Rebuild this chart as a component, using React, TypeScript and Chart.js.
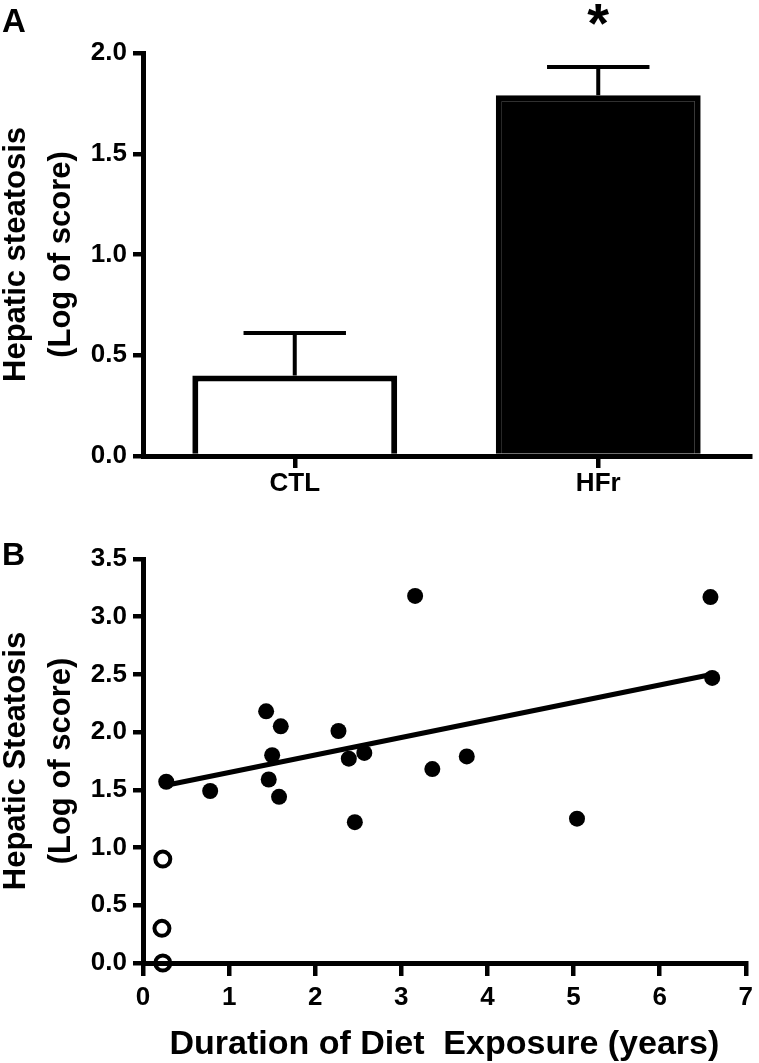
import React, { useEffect, useRef } from 'react';
import { Chart, registerables } from 'chart.js';

Chart.register(...registerables);

const FONT = '"Liberation Sans", Arial, Helvetica, sans-serif';

// ---- Panel A: bar chart ----
const barCategories = ['CTL', 'HFr'];
const barMeans = [0.4, 1.79];
const barErrors = [0.21, 0.14];
const barFills = ['#ffffff', '#000000'];
const barSignificance = ['', '*'];
const barYMin = 0;
const barYMax = 2.0;
const barYStep = 0.5;
const barYTitle = ['Hepatic steatosis', '(Log of score)'];

// ---- Panel B: scatter ----
const filledX = [0.27, 0.78, 1.43, 1.6, 1.5, 1.46, 1.58, 2.27, 2.39, 2.57, 2.46, 3.16, 3.36, 3.76, 5.04, 6.59, 6.61];
const filledY = [1.57, 1.49, 2.18, 2.05, 1.8, 1.59, 1.44, 2.01, 1.77, 1.82, 1.22, 3.18, 1.68, 1.79, 1.25, 3.17, 2.47];
const openX = [0.23, 0.22, 0.23];
const openY = [0.9, 0.3, 0.0];
const fitX = [0.27, 6.6];
const fitY = [1.54, 2.5];
const scatXMin = 0;
const scatXMax = 7;
const scatXStep = 1;
const scatYMin = 0;
const scatYMax = 3.5;
const scatYStep = 0.5;
const scatYTitle = ['Hepatic Steatosis', '(Log of score)'];
const scatXTitle = 'Duration of Diet  Exposure (years)';

const tickFont = { family: FONT, size: 26, weight: 'bold' as const };

const panelLabelPlugin = {
  id: 'panelLabel',
  afterDraw(chart: any, _args: any, opts: any) {
    const ctx = chart.ctx;
    ctx.save();
    ctx.fillStyle = '#000';
    ctx.font = `bold ${opts.size}px ${FONT}`;
    ctx.textAlign = 'left';
    ctx.textBaseline = 'alphabetic';
    ctx.fillText(opts.text, opts.x, opts.y);
    ctx.restore();
  },
};

const errorBarPlugin = {
  id: 'errorBars',
  afterDatasetsDraw(chart: any, _args: any, opts: any) {
    const meta = chart.getDatasetMeta(0);
    const yScale = chart.scales.y;
    const ctx = chart.ctx;
    ctx.save();
    ctx.strokeStyle = '#000';
    ctx.fillStyle = '#000';
    ctx.lineWidth = opts.lineWidth;
    ctx.lineCap = 'butt';
    meta.data.forEach((bar: any, i: number) => {
      const top = yScale.getPixelForValue(barMeans[i] + barErrors[i]);
      const half = (bar.width * opts.capFraction) / 2;
      ctx.beginPath();
      ctx.moveTo(bar.x, bar.y);
      ctx.lineTo(bar.x, top);
      ctx.moveTo(bar.x - half, top);
      ctx.lineTo(bar.x + half, top);
      ctx.stroke();
      const mark = barSignificance[i];
      if (mark) {
        ctx.font = `bold ${opts.markSize}px ${FONT}`;
        ctx.textAlign = 'center';
        ctx.textBaseline = 'alphabetic';
        const m = ctx.measureText(mark);
        const inkMid = (m.actualBoundingBoxAscent - m.actualBoundingBoxDescent) / 2;
        const cy = top - opts.markGap;
        ctx.fillText(mark, bar.x, cy + inkMid);
      }
    });
    ctx.restore();
  },
};

function axisGrid(tickLength: number) {
  return {
    display: true,
    drawOnChartArea: false,
    drawTicks: true,
    offset: false,
    tickLength,
    tickWidth: 4.5,
    tickColor: '#000',
    lineWidth: 4.5,
    color: '#000',
  };
}

export default function App() {
  const refA = useRef<HTMLCanvasElement>(null);
  const refB = useRef<HTMLCanvasElement>(null);

  useEffect(() => {
    const chartA = new Chart(refA.current as HTMLCanvasElement, {
      type: 'bar',
      data: {
        labels: barCategories,
        datasets: [
          {
            data: barMeans,
            backgroundColor: barFills,
            borderColor: '#000',
            borderWidth: 6,
            barPercentage: 0.675,
            categoryPercentage: 1,
          },
        ],
      },
      plugins: [errorBarPlugin, panelLabelPlugin],
      options: {
        responsive: false,
        animation: false,
        events: [],
        layout: { padding: { top: 53, right: 9, left: 0, bottom: 0 } },
        plugins: {
          legend: { display: false },
          tooltip: { enabled: false },
          errorBars: { lineWidth: 4, capFraction: 0.5, markSize: 56, markGap: 53 },
          panelLabel: { text: 'A', x: 2, y: 32, size: 33 },
        } as any,
        scales: {
          x: {
            type: 'category',
            offset: true,
            grid: axisGrid(12) as any,
            border: { display: true, width: 5, color: '#000', z: 1 },
            ticks: { color: '#000', font: tickFont, padding: 0, autoSkip: false, maxRotation: 0 },
            afterFit: (s: any) => {
              s.height = 44;
            },
          },
          y: {
            type: 'linear',
            min: barYMin,
            max: barYMax,
            grid: axisGrid(10) as any,
            border: { display: true, width: 5, color: '#000', z: 1 },
            ticks: {
              stepSize: barYStep,
              color: '#000',
              font: tickFont,
              padding: 6,
              callback: (v: any) => Number(v).toFixed(1),
            },
            title: {
              display: true,
              text: barYTitle,
              color: '#000',
              font: { family: FONT, size: 31, weight: 'bold', lineHeight: 1.45 },
              padding: { top: -6, bottom: 0 },
            },
            afterFit: (s: any) => {
              s.width = 143;
            },
          },
        },
      } as any,
    });

    const chartB = new Chart(refB.current as HTMLCanvasElement, {
      type: 'scatter',
      data: {
        datasets: [
          {
            type: 'line',
            data: fitX.map((x, i) => ({ x, y: fitY[i] })),
            borderColor: '#000',
            borderWidth: 5,
            pointRadius: 0,
            fill: false,
            clip: false,
          } as any,
          {
            data: filledX.map((x, i) => ({ x, y: filledY[i] })),
            pointRadius: 8,
            pointBackgroundColor: '#000',
            pointBorderColor: '#000',
            pointBorderWidth: 0,
            clip: false,
          },
          {
            data: openX.map((x, i) => ({ x, y: openY[i] })),
            pointRadius: 7.5,
            pointBackgroundColor: 'rgba(0,0,0,0)',
            pointBorderColor: '#000',
            pointBorderWidth: 4,
            clip: false,
          },
        ],
      },
      plugins: [panelLabelPlugin],
      options: {
        responsive: false,
        animation: false,
        events: [],
        layout: { padding: { top: 59, right: 11, left: 0, bottom: 0 } },
        plugins: {
          legend: { display: false },
          tooltip: { enabled: false },
          panelLabel: { text: 'B', x: 2, y: 65, size: 32 },
        } as any,
        scales: {
          x: {
            type: 'linear',
            position: 'bottom',
            min: scatXMin,
            max: scatXMax,
            grid: axisGrid(13) as any,
            border: { display: true, width: 5, color: '#000' },
            ticks: { stepSize: scatXStep, color: '#000', font: tickFont, padding: 6, maxRotation: 0 },
            title: {
              display: true,
              text: scatXTitle,
              color: '#000',
              font: { family: FONT, size: 34, weight: 'bold', lineHeight: 1 },
              padding: { top: 0, bottom: 1 },
            },
            afterFit: (s: any) => {
              s.height = 100;
            },
          },
          y: {
            type: 'linear',
            min: scatYMin,
            max: scatYMax,
            grid: axisGrid(10) as any,
            border: { display: true, width: 5, color: '#000' },
            ticks: {
              stepSize: scatYStep,
              color: '#000',
              font: tickFont,
              padding: 6,
              callback: (v: any) => Number(v).toFixed(1),
            },
            title: {
              display: true,
              text: scatYTitle,
              color: '#000',
              font: { family: FONT, size: 31, weight: 'bold', lineHeight: 1.45 },
              padding: { top: -6, bottom: 0 },
            },
            afterFit: (s: any) => {
              s.width = 143;
            },
          },
        },
      } as any,
    });

    return () => {
      chartA.destroy();
      chartB.destroy();
    };
  }, []);

  return (
    <div style={{ position: 'fixed', left: 0, top: 0, width: 759, height: 1063, background: '#fff' }}>
      <canvas ref={refA} width={759} height={500} style={{ position: 'absolute', left: 0, top: 0, display: 'block' }} />
      <canvas ref={refB} width={759} height={563} style={{ position: 'absolute', left: 0, top: 500, display: 'block' }} />
    </div>
  );
}
